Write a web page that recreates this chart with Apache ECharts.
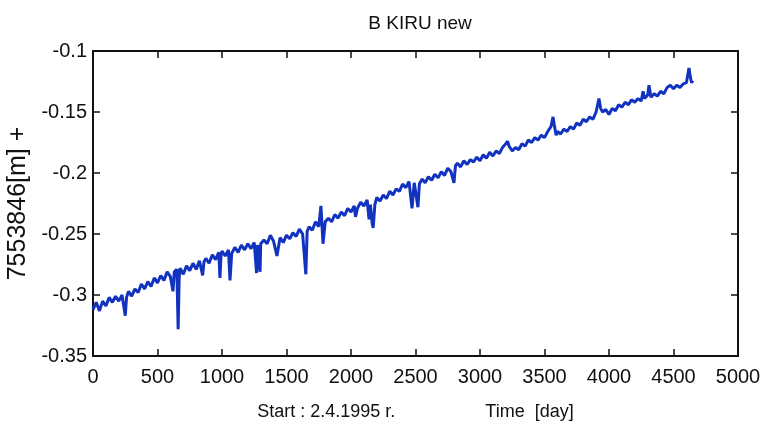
<!DOCTYPE html>
<html>
<head>
<meta charset="utf-8">
<script src="https://cdn.jsdelivr.net/npm/echarts@6/dist/echarts.min.js"></script>
<style>
html,body{margin:0;padding:0;background:#fff;}
#chart{width:760px;height:433px;}
</style>
</head>
<body>
<div id="chart"></div>
<script>
const titleText = 'B KIRU new';
const yAxisName = '7553846[m] +';
const xAxisName = 'Start : 2.4.1995 r.                  Time  [day]';

const days = [
0,25,50,75,100,125,150,175,200,225,250,260,275,300,325,350,375,400,425,450,475,500,525,550,575,600,620,630,650,660,668,675,
700,725,750,775,800,825,850,860,875,900,925,950,975,984,992,1000,1025,1050,1062,1075,1100,1125,1150,1175,1200,1225,1250,1268,1275,1295,
1300,1325,1350,1375,1400,1426,1450,1475,1500,1525,1550,1575,1600,1625,1650,1660,1675,1700,1725,1750,1767,1783,1800,1825,1850,1875,
1900,1925,1950,1975,2000,2025,2035,2050,2075,2100,2125,2140,2150,2165,2172,2185,2200,2225,2250,2275,2300,2325,2350,2375,2400,2425,
2450,2473,2490,2519,2530,2550,2575,2600,2625,2650,2675,2700,2725,2750,2775,2798,2810,2825,2850,2875,2900,2925,2950,2975,3000,3025,
3050,3075,3100,3125,3150,3175,3200,3215,3225,3250,3275,3300,3325,3350,3375,3400,3425,3450,3475,3500,3525,3550,3566,3575,3590,3600,
3625,3650,3675,3700,3725,3750,3775,3800,3825,3850,3875,3900,3922,3935,3950,3975,4000,4025,4050,4075,4100,4125,4150,4175,4200,4225,
4250,4264,4275,4300,4310,4325,4350,4375,4400,4425,4450,4475,4500,4525,4550,4575,4600,4620,4630,4640,4650
];

const values = [
-0.312,-0.306,-0.313,-0.305,-0.309,-0.302,-0.306,-0.301,-0.305,-0.300,-0.317,-0.302,-0.297,-0.301,-0.295,-0.298,-0.291,-0.295,-0.289,-0.293,-0.286,-0.290,-0.284,-0.288,-0.281,-0.285,-0.297,-0.281,-0.279,-0.328,-0.286,-0.278,
-0.283,-0.276,-0.280,-0.274,-0.279,-0.272,-0.284,-0.273,-0.270,-0.274,-0.267,-0.271,-0.265,-0.286,-0.268,-0.264,-0.268,-0.263,-0.288,-0.266,-0.261,-0.265,-0.259,-0.263,-0.258,-0.262,-0.257,-0.282,-0.259,-0.281,
-0.258,-0.255,-0.258,-0.251,-0.256,-0.268,-0.253,-0.257,-0.251,-0.254,-0.249,-0.252,-0.246,-0.250,-0.283,-0.248,-0.244,-0.247,-0.240,-0.244,-0.227,-0.258,-0.240,-0.237,-0.240,-0.234,
-0.237,-0.232,-0.235,-0.229,-0.232,-0.227,-0.236,-0.229,-0.224,-0.227,-0.222,-0.238,-0.226,-0.242,-0.245,-0.226,-0.220,-0.223,-0.218,-0.221,-0.215,-0.218,-0.213,-0.215,-0.209,-0.212,
-0.207,-0.229,-0.208,-0.228,-0.209,-0.205,-0.208,-0.203,-0.206,-0.201,-0.204,-0.199,-0.202,-0.196,-0.199,-0.208,-0.194,-0.192,-0.195,-0.190,-0.193,-0.189,-0.191,-0.187,-0.190,-0.185,
-0.188,-0.183,-0.186,-0.182,-0.184,-0.179,-0.176,-0.174,-0.178,-0.182,-0.179,-0.181,-0.176,-0.178,-0.173,-0.175,-0.171,-0.173,-0.169,-0.171,-0.166,-0.162,-0.154,-0.160,-0.169,-0.166,
-0.168,-0.164,-0.166,-0.162,-0.164,-0.159,-0.161,-0.156,-0.158,-0.154,-0.156,-0.150,-0.139,-0.147,-0.150,-0.148,-0.152,-0.147,-0.149,-0.144,-0.146,-0.142,-0.144,-0.140,-0.142,-0.139,
-0.141,-0.133,-0.139,-0.136,-0.128,-0.138,-0.135,-0.137,-0.133,-0.135,-0.130,-0.128,-0.131,-0.128,-0.130,-0.127,-0.126,-0.114,-0.121,-0.126,-0.124
];

const xMin = 0, xMax = 5000, xStep = 500;
const yMin = -0.35, yMax = -0.1, yStep = 0.05;

const seriesData = days.map((d, i) => [d, values[i]]);

const FONT = '"Liberation Sans", Arial, sans-serif';
const mkLine = () => ({ show: true, onZero: false, lineStyle: { color: '#111', width: 2 } });
const mkTick = () => ({ show: true, inside: true, length: 7, lineStyle: { color: '#111', width: 1.5 } });
const yFmt = v => String(parseFloat(Number(v).toFixed(2)));
const xFmt = v => String(Math.round(v));

const chart = echarts.init(document.getElementById('chart'), null, { renderer: 'canvas' });
chart.setOption({
  backgroundColor: '#ffffff',
  animation: false,
  title: {
    text: titleText,
    left: 415,
    top: 9,
    textAlign: 'center',
    textStyle: { fontFamily: FONT, fontSize: 19, fontWeight: 'normal', color: '#111' }
  },
  grid: { left: 93, right: 22, top: 51, bottom: 77, show: false, containLabel: false, outerBoundsMode: 'none' },
  xAxis: [
    {
      type: 'value', min: xMin, max: xMax, interval: xStep, position: 'bottom',
      name: xAxisName, nameLocation: 'middle', nameGap: 47,
      nameTextStyle: { fontFamily: FONT, fontSize: 18, color: '#111' },
      axisLine: mkLine(), axisTick: mkTick(), splitLine: { show: false },
      axisLabel: { fontFamily: FONT, fontSize: 20, color: '#111', margin: 11, formatter: xFmt }
    },
    {
      type: 'value', min: xMin, max: xMax, interval: xStep, position: 'top',
      axisLine: mkLine(), axisTick: mkTick(), splitLine: { show: false }, axisLabel: { show: false }
    }
  ],
  yAxis: [
    {
      type: 'value', min: yMin, max: yMax, interval: yStep, position: 'left',
      name: yAxisName, nameLocation: 'middle', nameGap: 56, nameRotate: 90,
      nameTextStyle: { fontFamily: FONT, fontSize: 25, color: '#111' },
      axisLine: mkLine(), axisTick: mkTick(), splitLine: { show: false },
      axisLabel: { fontFamily: FONT, fontSize: 20, color: '#111', margin: 6, formatter: yFmt }
    },
    {
      type: 'value', min: yMin, max: yMax, interval: yStep, position: 'right',
      axisLine: mkLine(), axisTick: mkTick(), splitLine: { show: false }, axisLabel: { show: false }
    }
  ],
  series: [{
    type: 'line',
    data: seriesData,
    xAxisIndex: 0, yAxisIndex: 0,
    showSymbol: false,
    symbol: 'none',
    lineStyle: { color: '#1232c0', width: 3 },
    z: 3
  }]
});
</script>
</body>
</html>
